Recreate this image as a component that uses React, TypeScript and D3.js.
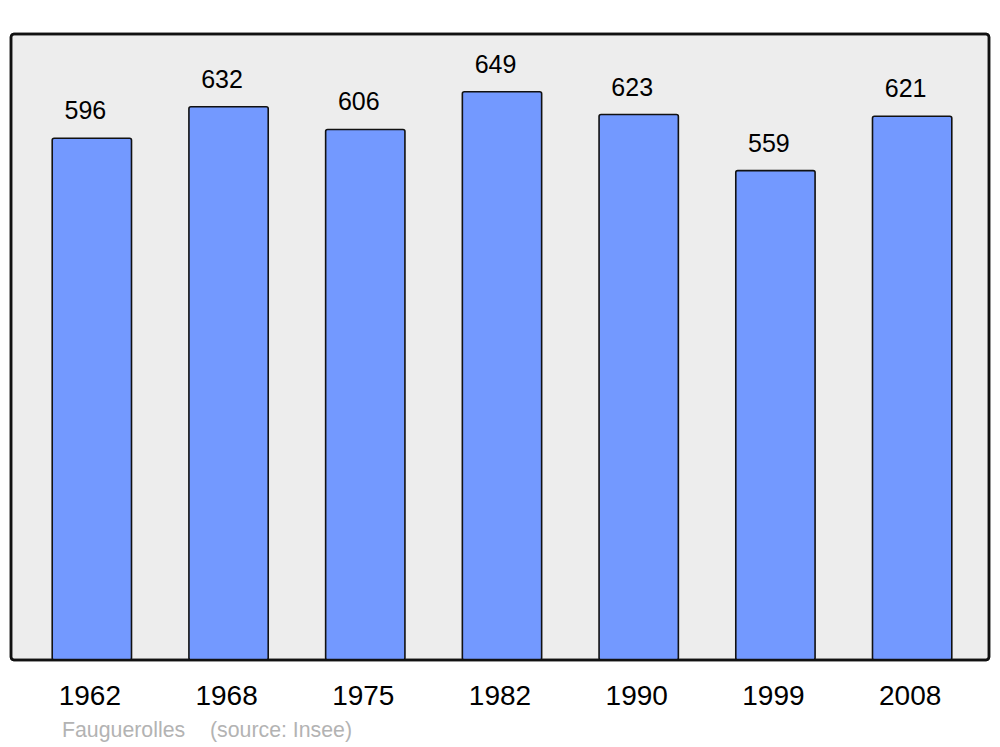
import React from "react";
import * as d3 from "d3";

const years = ["1962", "1968", "1975", "1982", "1990", "1999", "2008"];
const population = [596, 632, 606, 649, 623, 559, 621];
const title = "Fauguerolles";
const source = "(source: Insee)";

export default function App() {
  const W = 1000, H = 747;
  const frame = { x0: 11, y0: 34, x1: 989, y1: 660 };
  const x = d3.scaleBand().domain(years).range([23.5, 980.5]).paddingInner(0.42).paddingOuter(0.21);
  const y = d3.scaleLinear().domain([0, 715]).range([frame.y1, frame.y1 - 715 * 0.8755]);
  return (
    <svg width={W} height={H} style={{ position: "absolute", left: 0, top: 0 }} fontFamily="Liberation Sans, Arial, sans-serif">
      <rect x={0} y={0} width={W} height={H} fill="#ffffff" />
      <rect x={frame.x0} y={frame.y0} width={frame.x1 - frame.x0} height={frame.y1 - frame.y0} rx={3} fill="#ededed" stroke="#111" strokeWidth={2.5} />
      {years.map((yr, i) => {
        const v = population[i];
        const bx = x(yr)!;
        const bw = x.bandwidth();
        return (
          <g key={yr}>
            <rect x={bx} y={y(v)} width={bw} height={frame.y1 - y(v)} rx={2} fill="#7399ff" stroke="#111" strokeWidth={1.6} />
            <text x={bx + bw / 2 - 6.5} y={y(v) - 19} textAnchor="middle" fontSize={25} fill="#000">{v}</text>
            <text x={bx + bw / 2 - 2} y={705} textAnchor="middle" fontSize={28} fill="#000">{yr}</text>
          </g>
        );
      })}
      <rect x={frame.x0} y={frame.y0} width={frame.x1 - frame.x0} height={frame.y1 - frame.y0} rx={3} fill="none" stroke="#111" strokeWidth={2.5} />
      <text x={62} y={737} fontSize={21.3} fill="#b3b3b3">{title}</text>
      <text x={210} y={737} fontSize={21.3} fill="#b3b3b3">{source}</text>
    </svg>
  );
}
